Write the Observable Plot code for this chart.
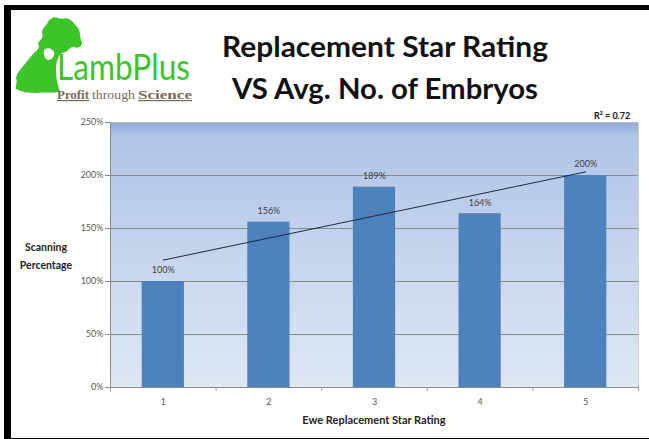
<!DOCTYPE html>
<html><head><meta charset="utf-8">
<script src="https://cdn.jsdelivr.net/npm/d3@7"></script>
<script src="https://cdn.jsdelivr.net/npm/@observablehq/plot@0.6"></script>
<style>
body{margin:0;background:#fff;}
#wrap{position:relative;width:649px;height:439px;overflow:hidden;font-family:Lato,"Open Sans",sans-serif;}
#frame{position:absolute;left:4px;top:5px;width:639px;height:428px;border-top:5px solid #000;border-left:7px solid #000;border-bottom:3px solid #000;border-right:1px solid #cfcfcf;box-sizing:content-box;}
#chart{position:absolute;left:0;top:0;}
.abs{position:absolute;white-space:nowrap;}
</style>
</head><body>
<div id="wrap">
  <div id="chart"></div>
  <div id="frame"></div>
  <svg class="abs" style="left:0;top:0" width="649" height="120">
    <path d="M48,22 C50,18 55,16 58,18 C62,20 65,17 69,19 C73,21 75,25 78,28 C81,32 79,37 82,42 C83,46 78,49 74,47 C71,46 69,50 66,52 C63,52 61,53 59,56 C57,60 56,64 56,70 C56,76 57,84 60,92 C52,93 44,92 36,93 C28,93 22,92 16,89 C15,85 18,82 16,78 C17,73 20,70 24,65 C28,60 31,56 35,52 C38,50 40,47 38,43 C40,40 44,38 42,33 C42,28 46,26 48,22 Z" fill="#3cc42a"/>
    <path d="M44,50 C47,47 52,48 54,52 C55,56 52,60 48,60 C45,59 43,55 44,50 Z" fill="#fff"/>
    <text x="57" y="80" font-family="Lato, sans-serif" font-size="36" fill="#3cc42a" textLength="133" lengthAdjust="spacingAndGlyphs">LambPlus</text>
    <text x="57" y="99" font-family="'Liberation Serif', serif" font-weight="bold" text-decoration="underline" font-size="12" fill="#7a6a5a" textLength="32" lengthAdjust="spacingAndGlyphs">Profit</text>
    <text x="92" y="99" font-family="'Liberation Serif', serif" font-size="12" fill="#7a6a5a" textLength="43" lengthAdjust="spacingAndGlyphs">through</text>
    <text x="138" y="99" font-family="'Liberation Serif', serif" font-weight="bold" text-decoration="underline" font-size="12" fill="#7a6a5a" textLength="54" lengthAdjust="spacingAndGlyphs">Science</text>
    <text x="385" y="57" text-anchor="middle" font-family="Lato, sans-serif" font-weight="bold" font-size="28" fill="#111" textLength="326" lengthAdjust="spacingAndGlyphs">Replacement Star Rating</text>
    <text x="385" y="99" text-anchor="middle" font-family="Lato, sans-serif" font-weight="bold" font-size="28" fill="#111" textLength="306" lengthAdjust="spacingAndGlyphs">VS Avg. No. of Embryos</text>
  </svg>
  <div class="abs" id="r2" style="left:594px;top:110px;font-size:9px;font-weight:bold;color:#111;"></div>
  <div class="abs" style="left:10px;top:238px;width:72px;text-align:center;font-size:10.5px;font-weight:bold;color:#222;line-height:18px;">Scanning<br>Percentage</div>
  <div class="abs" style="left:110px;top:413px;width:528px;text-align:center;font-size:11px;font-weight:bold;color:#222;">Ewe Replacement Star Rating</div>
</div>
<script>
const stars = [1, 2, 3, 4, 5];
const scanning = [100, 156, 189, 164, 200];
const yTicks = [0, 50, 100, 150, 200, 250];
const gridTicks = [50, 100, 150, 200];
const xTickMarks = [0.5, 1.5, 2.5, 3.5, 4.5, 5.5];
const r2Label = "R² = 0.72";

document.getElementById("r2").textContent = r2Label;
const data = stars.map((s, i) => ({star: s, value: scanning[i]}));

const plot = Plot.plot({
  width: 649, height: 439,
  marginLeft: 110, marginRight: 11, marginTop: 122, marginBottom: 52,
  style: {background: "transparent", color: "#595959", fontFamily: "Lato, sans-serif", overflow: "visible"},
  x: {type: "linear", domain: [0.5, 5.5]},
  y: {domain: [0, 250]},
  marks: [
    Plot.frame({fill: "url(#bgGrad)", stroke: "none"}),
    Plot.ruleY(gridTicks, {stroke: "#8a8a8a", strokeWidth: 1}),
    Plot.frame({anchor: "top", stroke: "#b8b8b8"}),
    Plot.frame({anchor: "right", stroke: "#d0d0d0"}),
    Plot.rectY(data, {x1: d => d.star - 0.2, x2: d => d.star + 0.2, y: "value", fill: "#4f81bd", inset: 0}),
    Plot.linearRegressionY(data, {x: "star", y: "value", stroke: "#1c2a44", strokeWidth: 1, ci: 0}),
    Plot.text(data, {x: "star", y: "value", text: d => d.value + "%", dy: -11, fontSize: 9, fill: "#404040"}),
    Plot.frame({anchor: "left", stroke: "#8a8a8a"}),
    Plot.frame({anchor: "bottom", stroke: "#8a8a8a"}),
    Plot.axisY({ticks: yTicks, tickFormat: d => d + "%", tickSize: 5, tickPadding: 2, fontSize: 9, label: null, stroke: "#8a8a8a", fill: "#595959"}),
    Plot.axisX({ticks: xTickMarks, tickFormat: () => "", tickSize: 4, label: null, stroke: "#9a9a9a"}),
    Plot.axisX({ticks: stars, tickFormat: d => String(d), tickSize: 0, tickPadding: 11, fontSize: 9, label: null, fill: "#595959"})
  ]
});

const ns = "http://www.w3.org/2000/svg";
const defs = document.createElementNS(ns, "defs");
defs.innerHTML = '<linearGradient id="bgGrad" x1="0" y1="0" x2="0" y2="1">' +
  '<stop offset="0" stop-color="#8eaadc"/><stop offset="0.05" stop-color="#b0c4e6"/>' +
  '<stop offset="0.5" stop-color="#c6d5ed"/><stop offset="1" stop-color="#dfe7f4"/></linearGradient>';
plot.insertBefore(defs, plot.firstChild);
document.getElementById("chart").appendChild(plot);
</script>
</body></html>
